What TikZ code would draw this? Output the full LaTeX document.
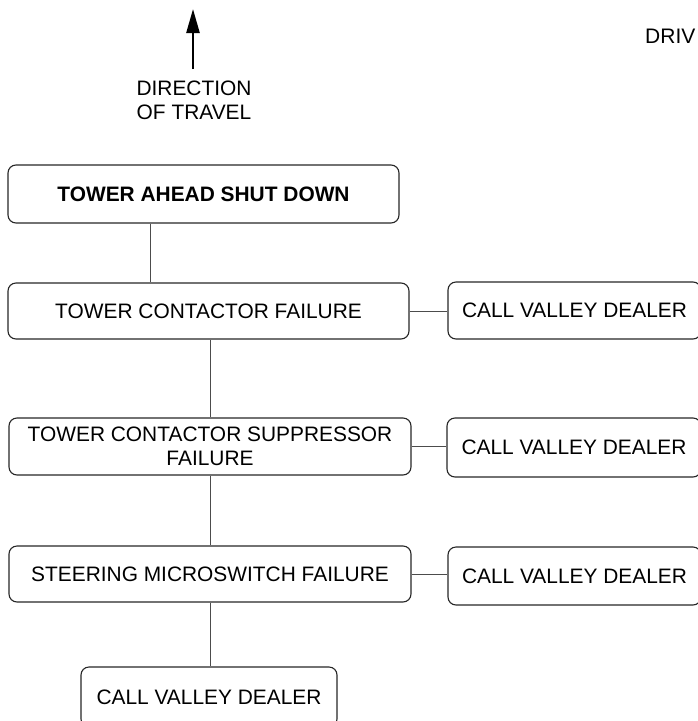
\documentclass[tikz,border=0pt]{standalone}
\usepackage{fontspec}
\setmainfont{Liberation Sans}
\usetikzlibrary{arrows.meta}
\begin{document}
\begin{tikzpicture}[x=1pt,y=-1pt,
  box/.style={draw=black!85, line width=1.1pt, rounded corners=8pt, inner sep=0pt, align=center,
    font=\fontsize{20.9}{24}\selectfont},
  conn/.style={draw=black!70, line width=1pt},
  lbl/.style={inner sep=0pt, align=center, font=\fontsize{20.9}{24}\selectfont}]
\useasboundingbox (0,0) rectangle (698,721);
\clip (0,0) rectangle (698,721);
% direction arrow
\coordinate (tail) at (193,69);
\coordinate (tip) at (193,9);
\draw[line width=2.4pt, -{Triangle[length=24pt,width=13pt]}] (tail) -- (tip);
\node[lbl, anchor=north] (dir) at (194,81) {DIRECTION\\OF TRAVEL};
\node[lbl, anchor=base west, font=\fontsize{21}{24}\selectfont] (driv) at (645,43) {DRIV};
% main boxes
\node[box, minimum width=391pt, minimum height=58pt] (b1) at (203.5,194) {\bfseries TOWER AHEAD SHUT DOWN};
\node[box, minimum width=401pt, minimum height=56pt] (b2) at (208.5,311) {TOWER CONTACTOR FAILURE};
\node[box, minimum width=402pt, minimum height=57pt] (b3) at (210,446.5) {TOWER CONTACTOR SUPPRESSOR\\FAILURE};
\node[box, minimum width=402pt, minimum height=56pt] (b4) at (210,574) {STEERING MICROSWITCH FAILURE};
\node[box, minimum width=256pt, minimum height=60pt] (b5) at (209,697) {CALL VALLEY DEALER};
% side boxes
\node[box, minimum width=253pt, minimum height=57pt] (c1) at (574.5,310.5) {CALL VALLEY DEALER};
\node[box, minimum width=254pt, minimum height=59pt] (c2) at (574,447.5) {CALL VALLEY DEALER};
\node[box, minimum width=253pt, minimum height=58pt] (c3) at (574.5,576) {CALL VALLEY DEALER};
% connectors
\draw[conn] (b1.south -| 150,0) -- (b2.north -| 150,0);
\draw[conn] (b2.south -| 210,0) -- (b3.north -| 210,0);
\draw[conn] (b3.south -| 210,0) -- (b4.north -| 210,0);
\draw[conn] (b4.south -| 210,0) -- (b5.north -| 210,0);
\draw[conn] (b2.east) -- (b2.east -| c1.west);
\draw[conn] (b3.east) -- (b3.east -| c2.west);
\draw[conn] (b4.east) -- (b4.east -| c3.west);
\end{tikzpicture}
\end{document}
